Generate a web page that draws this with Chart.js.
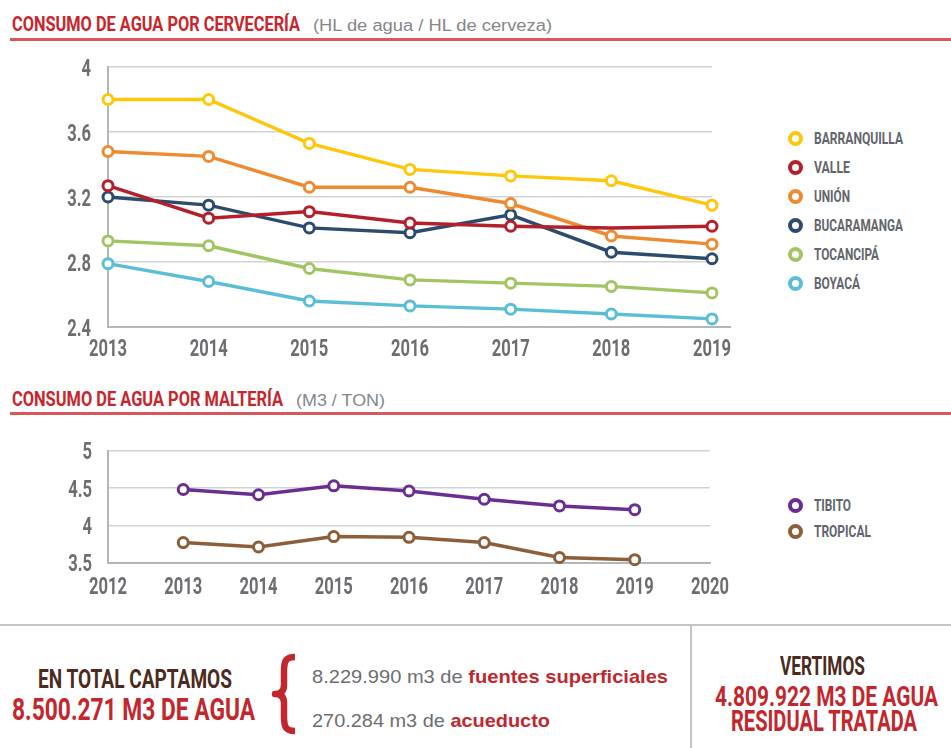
<!DOCTYPE html>
<html>
<head>
<meta charset="utf-8">
<script src="https://cdn.jsdelivr.net/npm/chart.js@4.4.0/dist/chart.umd.min.js"></script>
<style>
  body { margin: 0; width: 951px; height: 748px; background: #fff; position: relative; overflow: hidden;
         font-family: Roboto, 'DejaVu Sans', sans-serif; }
  .abs { position: absolute; white-space: nowrap; }
  .fit { transform-origin: 0 0; }
  .cond { font-weight: bold; }
  .title { font-size: 21px; line-height: 21px; color: #c8252c; }
  .sub { font-family: 'Liberation Sans', Arial, sans-serif; font-size: 16px; line-height: 16px; color: #85878a; }
  .rule { left: 10px; right: 0; height: 2.5px; background: #d9585c; }
  .legend-dot { width: 15px; height: 15px; box-sizing: border-box; border-radius: 50%; border: 4px solid; background: #fff; }
  .legend-txt { font-size: 17px; line-height: 17px; color: #62666c; }
  .brown { color: #4b2a20; }
  .red { color: #c1272d; }
  .plain { font-family: 'Liberation Sans', Arial, sans-serif; font-size: 19px; line-height: 19px; color: #6d6e71; }
  .plain b { color: #c1272d; }
</style>
</head>
<body>

<div class="abs fit cond title" style="left:12px;top:14px" data-w="288">CONSUMO DE AGUA POR CERVECERÍA</div>
<div class="abs fit sub" style="left:313px;top:17.5px" data-w="239">(HL de agua / HL de cerveza)</div>
<div class="abs rule" style="top:38px"></div>
<div class="abs" style="left:0;top:50px;width:740px;height:310px"><canvas id="brewChart"></canvas></div>
<div id="brewLegend"></div>

<div class="abs fit cond title" style="left:12px;top:389px" data-w="271">CONSUMO DE AGUA POR MALTERÍA</div>
<div class="abs fit sub" style="left:296px;top:392.5px" data-w="89">(M3 / TON)</div>
<div class="abs rule" style="top:412px"></div>
<div class="abs" style="left:0;top:420px;width:740px;height:190px"><canvas id="maltChart"></canvas></div>
<div id="maltLegend"></div>

<div class="abs" style="left:0;top:624px;width:951px;height:2px;background:#c3c6c9"></div>
<div class="abs" style="left:690px;top:625px;width:2px;height:123px;background:#c3c6c9"></div>

<div class="abs fit cond brown" style="left:38px;top:667px;font-size:25px;line-height:25px" data-w="194">EN TOTAL CAPTAMOS</div>
<div class="abs fit cond red" style="left:12px;top:693px;font-size:32px;line-height:32px" data-w="243">8.500.271 M3 DE AGUA</div>
<svg class="abs" style="left:266px;top:650px" width="36" height="90" viewBox="0 0 36 90">
  <path d="M29 7 C19 7 18 12 18 22 L18 35 C18 41 15 44 9 44 C15 44 18 47 18 53 L18 66 C18 76 19 81 29 81"
        fill="none" stroke="#c1272d" stroke-width="6.5" stroke-linejoin="round"/>
</svg>
<div class="abs fit plain" style="left:312px;top:666.6px" data-w="356">8.229.990 m3 de <b>fuentes superficiales</b></div>
<div class="abs fit plain" style="left:312px;top:710.6px" data-w="238">270.284 m3 de <b>acueducto</b></div>

<div class="abs fit cond brown" style="left:780px;top:653px;font-size:26px;line-height:26px" data-w="85">VERTIMOS</div>
<div class="abs fit cond red" style="left:715px;top:683px;font-size:28px;line-height:28px" data-w="223">4.809.922 M3 DE AGUA</div>
<div class="abs fit cond red" style="left:731px;top:707px;font-size:29px;line-height:29px" data-w="186">RESIDUAL TRATADA</div>

<script>
// Consumo de agua por cervecería (HL de agua / HL de cerveza)
const years = ['2013', '2014', '2015', '2016', '2017', '2018', '2019'];
const yTicksBrew = [2.4, 2.8, 3.2, 3.6, 4];
const brewNames = ['BARRANQUILLA', 'VALLE', 'UNIÓN', 'BUCARAMANGA', 'TOCANCIPÁ', 'BOYACÁ'];
const barranquilla = [3.80, 3.80, 3.53, 3.37, 3.33, 3.30, 3.15];
const valle        = [3.27, 3.07, 3.11, 3.04, 3.02, 3.01, 3.02];
const union        = [3.48, 3.45, 3.26, 3.26, 3.16, 2.96, 2.91];
const bucaramanga  = [3.20, 3.15, 3.01, 2.98, 3.09, 2.86, 2.82];
const tocancipa    = [2.93, 2.90, 2.76, 2.69, 2.67, 2.65, 2.61];
const boyaca       = [2.79, 2.68, 2.56, 2.53, 2.51, 2.48, 2.45];

// Consumo de agua por maltería (M3 / TON)
const maltAxis = ['2012', '2013', '2014', '2015', '2016', '2017', '2018', '2019', '2020'];
const maltYears = ['2013', '2014', '2015', '2016', '2017', '2018', '2019'];
const yTicksMalt = [3.5, 4, 4.5, 5];
const maltNames = ['TIBITO', 'TROPICAL'];
const tibito   = [4.48, 4.41, 4.53, 4.46, 4.35, 4.26, 4.21];
const tropical = [3.77, 3.71, 3.85, 3.84, 3.77, 3.57, 3.54];

const COLORS = {
  barranquilla: '#fdc70c',
  valle: '#b3202b',
  union: '#ee8a2f',
  bucaramanga: '#2d4b6c',
  tocancipa: '#a2c564',
  boyaca: '#5bbdd6',
  tibito: '#6a2d91',
  tropical: '#8c5e3a',
};
const AXIS = '#b4b6b8';
const GRID = '#d2d3d5';
const TICK_FONT = "bold 24px Roboto, 'DejaVu Sans', sans-serif";
const TICK_COLOR = '#6d6e71';

function lineSet(label, data, color, extra) {
  return Object.assign({
    label, data,
    borderColor: color,
    backgroundColor: '#fff',
    borderWidth: 3.5,
    pointRadius: 5,
    pointBorderWidth: 3,
    pointBackgroundColor: '#fff',
    pointBorderColor: color,
    tension: 0,
    clip: false,
  }, extra || {});
}

// x axis line running a bit past the last grid line (top chart only)
const axisTail = {
  id: 'axisTail',
  beforeDatasetsDraw(chart, args, opts) {
    if (!opts.length) return;
    const { ctx, chartArea } = chart;
    ctx.save();
    ctx.strokeStyle = AXIS;
    ctx.lineWidth = 2;
    ctx.beginPath();
    ctx.moveTo(chartArea.right, chartArea.bottom);
    ctx.lineTo(chartArea.right + opts.length, chartArea.bottom);
    ctx.stroke();
    ctx.restore();
  },
};

// tick labels in a narrow, tall face: squeeze the text horizontally
const tickText = {
  id: 'tickText',
  afterDraw(chart, args, o) {
    const { ctx, chartArea, scales: { x, y } } = chart;
    ctx.save();
    ctx.font = TICK_FONT;
    ctx.fillStyle = TICK_COLOR;
    const sx = 38 / ctx.measureText('2013').width;
    const draw = (txt, px, py, align) => {
      ctx.save();
      ctx.translate(px, py);
      ctx.scale(sx, 1);
      ctx.textAlign = align;
      ctx.textBaseline = 'alphabetic';
      ctx.fillText(txt, 0, 0);
      ctx.restore();
    };
    x.ticks.forEach((t, i) => draw(t.label, x.getPixelForTick(i), chartArea.bottom + o.xBase, 'center'));
    y.ticks.forEach((t, i) => draw(t.label, o.yRight, y.getPixelForTick(i) + 8.5, 'right'));
    ctx.restore();
  },
};

function scales(o) {
  return {
    x: {
      type: 'category',
      labels: o.xLabels,
      offset: false,
      grid: { display: false, drawTicks: false },
      border: { color: AXIS, width: 2 },
      ticks: { display: false, autoSkip: false },
      afterFit: s => { s.height = o.xHeight; },
    },
    y: {
      min: o.yTicks[0],
      max: o.yTicks[o.yTicks.length - 1],
      afterBuildTicks: s => { s.ticks = o.yTicks.map(v => ({ value: v })); },
      grid: { color: GRID, lineWidth: 1.5, drawTicks: false },
      border: { color: AXIS, width: 2 },
      ticks: { display: false, callback: v => String(v) },
      afterFit: s => { s.width = o.yWidth; },
    },
  };
}

function baseOptions(padding, sc, tail, ticks) {
  return {
    responsive: true,
    maintainAspectRatio: false,
    animation: false,
    events: [],
    layout: { padding },
    plugins: {
      legend: { display: false },
      tooltip: { enabled: false },
      axisTail: { length: tail },
      tickText: ticks,
    },
    scales: sc,
  };
}

new Chart(document.getElementById('brewChart'), {
  type: 'line',
  data: {
    labels: years,
    datasets: [
      lineSet(brewNames[0], barranquilla, COLORS.barranquilla),
      lineSet(brewNames[1], valle, COLORS.valle, { pointRadius: [5, 5, 5, 5, 5, 0, 5] }),
      lineSet(brewNames[2], union, COLORS.union),
      lineSet(brewNames[3], bucaramanga, COLORS.bucaramanga),
      lineSet(brewNames[4], tocancipa, COLORS.tocancipa),
      lineSet(brewNames[5], boyaca, COLORS.boyaca),
    ],
  },
  options: baseOptions(
    { left: 60, top: 17, right: 28, bottom: 0 },
    scales({ xLabels: years, yTicks: yTicksBrew, xHeight: 33, yWidth: 48 }),
    19,
    { xBase: 29, yRight: 91 }
  ),
  plugins: [axisTail, tickText],
});

const toPoints = vals => maltYears.map((yr, i) => ({ x: yr, y: vals[i] }));

new Chart(document.getElementById('maltChart'), {
  type: 'line',
  data: {
    datasets: [
      lineSet(maltNames[0], toPoints(tibito), COLORS.tibito),
      lineSet(maltNames[1], toPoints(tropical), COLORS.tropical),
    ],
  },
  options: baseOptions(
    { left: 60, top: 30.7, right: 30, bottom: 0 },
    scales({ xLabels: maltAxis, yTicks: yTicksMalt, xHeight: 47.3, yWidth: 48 }),
    0,
    { xBase: 31, yRight: 92 }
  ),
  plugins: [axisTail, tickText],
});

// html legends, text squeezed to the widths in the original
function buildLegend(id, names, colors, centers, widths) {
  const el = document.getElementById(id);
  el.innerHTML = names.map((n, i) => `
    <div class="abs legend-dot" style="left:788px;top:${centers[i] - 7.5}px;border-color:${colors[i]}"></div>
    <div class="abs fit cond legend-txt" style="left:814px;top:${centers[i] - 8.2}px" data-w="${widths[i]}">${n}</div>`).join('');
}
buildLegend('brewLegend', brewNames,
  [COLORS.barranquilla, COLORS.valle, COLORS.union, COLORS.bucaramanga, COLORS.tocancipa, COLORS.boyaca],
  [138, 167, 196, 225, 254, 283],
  [89, 36, 36, 89, 65, 46]);
buildLegend('maltLegend', maltNames, [COLORS.tibito, COLORS.tropical], [505, 531], [37, 57]);

document.querySelectorAll('[data-w]').forEach(el => {
  const w = el.getBoundingClientRect().width;
  el.style.transform = `scaleX(${el.dataset.w / w})`;
});
</script>
</body>
</html>
